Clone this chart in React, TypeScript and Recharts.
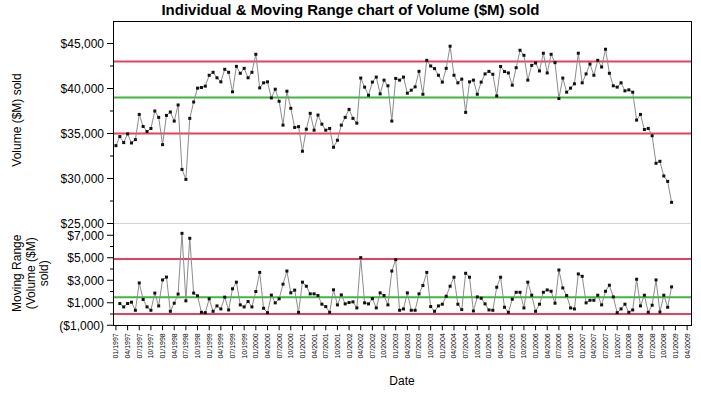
import React from 'react';
import { LineChart, Line, XAxis, YAxis, ReferenceLine } from 'recharts';

// monthly volume, 01/1997 .. 12/2008
const volume: number[] = [
  33650, 34660, 33990, 34960, 33950, 34320, 37120, 35780, 35220, 35560, 37500, 36790,
  33760, 37010, 37390, 36380, 38170, 31010, 29900, 36680, 38500, 40040, 40110, 40260,
  41470, 41800, 41190, 40740, 42130, 41800, 39630, 42460, 41690, 42240, 41190, 41800,
  43800, 40070, 40630, 40740, 38950, 39920, 38580, 35930, 39700, 37800, 35670, 35760,
  33030, 35480, 37240, 35370, 37050, 36040, 35370, 35560, 33470, 34250, 35930, 36790,
  37680, 36680, 36150, 41160, 40150, 39250, 40710, 41270, 39400, 40930, 40300, 36380,
  41120, 40930, 41270, 39480, 39810, 40180, 41910, 39360, 43130, 42500, 42210, 41470,
  40710, 42240, 44700, 41470, 40630, 41040, 37350, 40740, 40930, 39360, 40710, 41620,
  41900, 41580, 39180, 42450, 41880, 41730, 40370, 42310, 44250, 43690, 40930, 42570,
  42830, 41950, 43920, 41730, 43800, 42870, 38880, 41160, 39590, 40040, 40520, 43920,
  40630, 41620, 42720, 41470, 43130, 42390, 44360, 41690, 40300, 40150, 40630, 39740,
  39850, 39590, 36490, 37120, 35440, 35560, 34750, 31690, 31910, 30280, 29680, 27350,
];

// moving range, 02/1997 .. 12/2008
const movingRange: number[] = [
  930, 630, 930, 1050, 330, 2760, 1290, 630, 330, 1860, 720, 3030,
  3280, 240, 960, 1770, 7170, 1170, 6730, 1860, 1620, 150, 120, 1350,
  240, 720, 450, 1500, 360, 2240, 2830, 810, 630, 1110, 630, 2000,
  3700, 510, 120, 1680, 990, 1350, 2650, 3820, 1880, 2120, 150, 2830,
  2470, 1790, 1790, 1640, 870, 660, 150, 2150, 810, 1700, 900, 1020,
  1080, 540, 5010, 990, 900, 1370, 540, 1880, 1640, 810, 3820, 4830,
  330, 450, 1880, 330, 330, 1790, 2530, 3700, 660, 240, 720, 870,
  1580, 2470, 3270, 870, 390, 3620, 3270, 270, 1520, 1400, 900, 360,
  330, 2380, 3270, 600, 150, 1310, 1930, 1930, 540, 2830, 1670, 240,
  870, 1930, 2140, 2020, 960, 3910, 2320, 1640, 540, 450, 3560, 3350,
  990, 1220, 1220, 1670, 810, 2020, 2560, 1520, 120, 450, 870, 150,
  360, 3090, 720, 1670, 150, 780, 3030, 180, 1670, 600, 2410,
];

const tickLabels: string[] = [
  '01/1997', '04/1997', '07/1997', '10/1997', '01/1998', '04/1998', '07/1998', '10/1998',
  '01/1999', '04/1999', '07/1999', '10/1999', '01/2000', '04/2000', '07/2000', '10/2000',
  '01/2001', '04/2001', '07/2001', '10/2001', '01/2002', '04/2002', '07/2002', '10/2002',
  '01/2003', '04/2003', '07/2003', '10/2003', '01/2004', '04/2004', '07/2004', '10/2004',
  '01/2005', '04/2005', '07/2005', '10/2005', '01/2006', '04/2006', '07/2006', '10/2006',
  '01/2007', '04/2007', '07/2007', '10/2007', '01/2008', '04/2008', '07/2008', '10/2008',
  '01/2009', '04/2009',
];

const volumeTicks: number[] = [25000, 27500, 30000, 32500, 35000, 37500, 40000, 42500, 45000];
const rangeTicks: number[] = [-1000, 0, 1000, 2000, 3000, 4000, 5000, 6000, 7000];

// control limits
const volumeCL = 39000;
const volumeUCL = 43000;
const volumeLCL = 35000;
const rangeCL = 1500;
const rangeUCL = 4900;
const rangeLCL = 0;

const FONT = '"Liberation Sans", Arial, Helvetica, sans-serif';
const RED = '#e5405e';
const GREEN = '#3cb83c';

const topData = volume.map((v, i) => ({ idx: i, volume: v }));
const mrData = movingRange.map((v, i) => ({ idx: i + 1, range: v }));
const xTicks = tickLabels.map((_, i) => i * 3);
const xDomain: [number, number] = [-0.5, 148];

const money = (v: number) =>
  v < 0 ? `($${Math.abs(v).toLocaleString('en-US')})` : `$${v.toLocaleString('en-US')}`;

const makeYTick = (isMajor: (v: number) => boolean) => (props: any) => {
  const { x, y, payload } = props;
  const v = payload.value as number;
  const major = isMajor(v);
  return (
    <g key={`yt-${v}`}>
      <line x1={x - (major ? 7 : 4)} x2={x} y1={y} y2={y} stroke="#000" />
      {major && (
        <text x={x - 10} y={y} dy={4.5} textAnchor="end" fontSize={12} fill="#000" fontFamily={FONT}>
          {money(v)}
        </text>
      )}
    </g>
  );
};

const topTick = makeYTick((v) => v % 5000 === 0);
const bottomTick = makeYTick((v) => (v + 1000) % 2000 === 0);

const xTick = (props: any) => {
  const { x, y, payload } = props;
  const ty = y + 3;
  return (
    <text
      key={`xt-${payload.value}`}
      x={x}
      y={ty}
      transform={`rotate(-90 ${x} ${ty})`}
      textAnchor="end"
      dy="0.35em"
      fontSize={7}
      fill="#000"
      fontFamily={FONT}
    >
      {tickLabels[Math.round(payload.value / 3)]}
    </text>
  );
};

const square = (p: any) => (
  <rect key={`d-${p.index}`} x={p.cx - 1.5} y={p.cy - 1.5} width={3} height={3} fill="#111" />
);

export default function App() {
  return (
    <div style={{ position: 'absolute', left: 0, top: 0, width: 701, height: 394, background: '#fff', fontFamily: FONT }}>
      <div style={{ position: 'absolute', left: 0, top: 0, width: 701, textAlign: 'center', fontSize: 15, fontWeight: 'bold', lineHeight: '20px' }}>
        Individual &amp; Moving Range chart of Volume ($M) sold
      </div>

      <div style={{ position: 'absolute', left: 0, top: 224 }}>
        <LineChart width={701} height={170} data={mrData} margin={{ top: 0, right: 10, bottom: 0, left: 0 }}>
          <XAxis
            type="number"
            dataKey="idx"
            domain={xDomain}
            ticks={xTicks}
            interval={0}
            height={68.75}
            axisLine={false}
            tickLine={{ stroke: '#000' }}
            tickSize={5}
            tickMargin={0}
            tick={xTick}
          />
          <YAxis
            type="number"
            domain={[-1000, 8000]}
            ticks={rangeTicks}
            interval={0}
            width={114}
            axisLine={false}
            tickLine={false}
            tickSize={0}
            tickMargin={0}
            tick={bottomTick}
          />
          <ReferenceLine y={rangeUCL} stroke={RED} strokeWidth={2} />
          <ReferenceLine y={rangeCL} stroke={GREEN} strokeWidth={2} />
          <ReferenceLine y={rangeLCL} stroke={RED} strokeWidth={2} />
          <Line
            type="linear"
            dataKey="range"
            stroke="#8c8c8c"
            strokeWidth={1}
            dot={square}
            activeDot={false}
            isAnimationActive={false}
          />
        </LineChart>
      </div>

      {/* top panel drawn after so its $25,000 label is not covered */}
      <div style={{ position: 'absolute', left: 0, top: 0, pointerEvents: 'none' }}>
        <LineChart width={701} height={240} data={topData} margin={{ top: 21, right: 10, bottom: 16.5, left: 0 }}>
          <XAxis type="number" dataKey="idx" domain={xDomain} hide />
          <YAxis
            type="number"
            domain={[25000, 47500]}
            ticks={volumeTicks}
            interval={0}
            width={114}
            axisLine={false}
            tickLine={false}
            tickSize={0}
            tickMargin={0}
            tick={topTick}
          />
          <ReferenceLine y={25000} stroke="#d4d4d4" strokeWidth={1} />
          <ReferenceLine y={volumeUCL} stroke={RED} strokeWidth={2} />
          <ReferenceLine y={volumeCL} stroke={GREEN} strokeWidth={2} />
          <ReferenceLine y={volumeLCL} stroke={RED} strokeWidth={2} />
          <Line
            type="linear"
            dataKey="volume"
            stroke="#8c8c8c"
            strokeWidth={1}
            dot={square}
            activeDot={false}
            isAnimationActive={false}
          />
        </LineChart>
      </div>

      {/* plot frame */}
      <div style={{ position: 'absolute', left: 113, top: 21, width: 579, height: 305, border: '1px solid #000', boxSizing: 'border-box', pointerEvents: 'none' }} />

      <div style={{ position: 'absolute', left: 16.5 - 70, top: 120 - 7, width: 140, height: 14, lineHeight: '14px', fontSize: 12, textAlign: 'center', transform: 'rotate(-90deg)' }}>
        Volume ($M) sold
      </div>
      <div style={{ position: 'absolute', left: 31 - 60, top: 273 - 20.25, width: 120, height: 40.5, lineHeight: '13.5px', fontSize: 12, textAlign: 'center', transform: 'rotate(-90deg)' }}>
        Moving Range<br />(Volume ($M)<br />sold)
      </div>
      <div style={{ position: 'absolute', left: 402 - 50, top: 381 - 8, width: 100, lineHeight: '16px', fontSize: 12, textAlign: 'center' }}>
        Date
      </div>
    </div>
  );
}
